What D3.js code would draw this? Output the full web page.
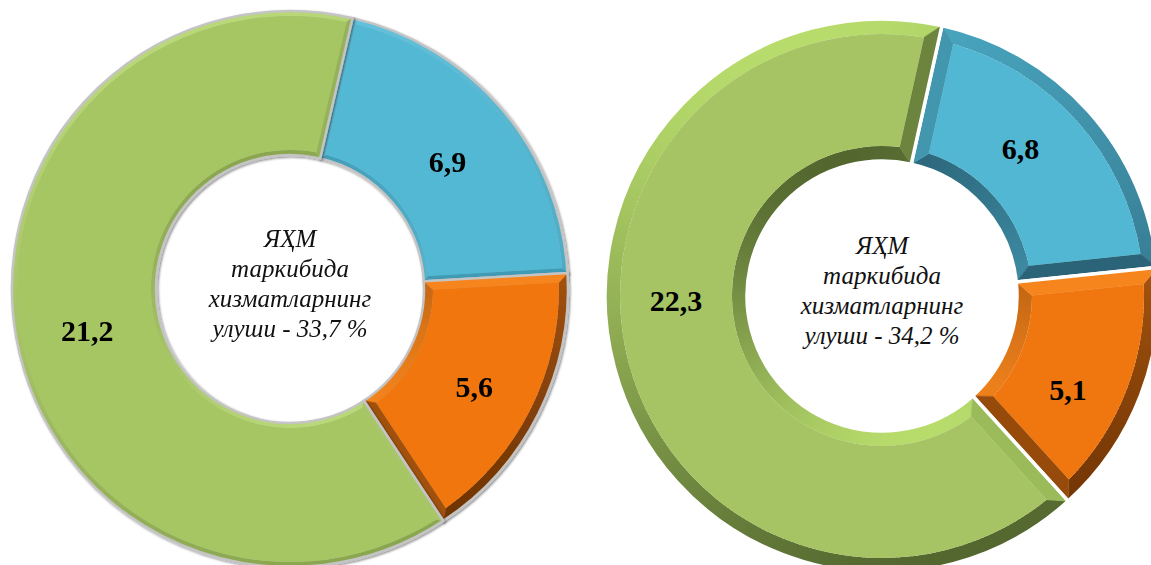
<!DOCTYPE html>
<meta charset="utf-8">
<body style="margin:0;background:#fff">
<script src="https://d3js.org/d3.v7.min.js"></script>
<script>
    // slice order follows the chart clockwise from the first slice
    var sectors = ["blue", "orange", "green"];
    var leftValues = [6.9, 5.6, 21.2];
    var rightValues = [6.8, 5.1, 22.3];
    var captionLines = ["ЯҲМ", "таркибида", "хизматларнинг", "улуши - "];

    var width = 1151, height = 565;
    var rad = Math.PI / 180;
    var serif = "Tinos, 'Times New Roman', FreeSerif, serif";

    // light comes from the top left
    var light = (function () {
        var x = -0.3, y = -0.95, l = Math.hypot(x, y);
        return [x / l, y / l];
    })();

    var palettes = {
        soft: {
            blue:   { face: "#52b8d3", dark: "#3f9bb5", light: "#66c4de", w: 5 },
            orange: { face: "#f0760f", dark: "#6e3304", light: "#f7861d", w: 9 },
            green:  { face: "#a6c564", dark: "#8aa64f", light: "#b9d877", w: 5 }
        },
        bevel: {
            blue:   { face: "#52b7d2", dark: "#2b6377", light: "#4aa8c2", w: 15 },
            orange: { face: "#f0760f", dark: "#6e3304", light: "#f7861d", w: 15 },
            green:  { face: "#a6c464", dark: "#53672f", light: "#b8dc6c", w: 15 }
        }
    };

    var charts = [
        { values: leftValues, cx: 290, cy: 289, R: 278, r: 134, start: 13, style: "soft",
          outline: "#c4c4c4", outlineW: 2.5, nudge: [0, 0, 0], shadow: true },
        { values: rightValues, cx: 882, cy: 296, R: 277, r: 135, start: 12.5, style: "bevel",
          outline: "#ffffff", outlineW: 3.5, nudge: [-6, 4.5, 15], shadow: false }
    ];

    var fmt = function (v) { return d3.format(".1f")(v).replace(".", ","); };

    var svg = d3.select("body").append("svg")
        .attr("width", width)
        .attr("height", height)
        .style("display", "block");
    var defs = svg.append("defs");

    defs.append("filter").attr("id", "soft-shadow")
        .attr("x", "-10%").attr("y", "-10%").attr("width", "120%").attr("height", "120%")
        .append("feDropShadow")
        .attr("dx", 1.2).attr("dy", 1.2)
        .attr("stdDeviation", 1.2)
        .attr("flood-color", "#000")
        .attr("flood-opacity", 0.45);

    function pt(r, a) { return [r * Math.sin(a), -r * Math.cos(a)]; }

    function shade(p, n) {
        var t = (n[0] * light[0] + n[1] * light[1] + 1) / 2;
        return d3.interpolateRgb(p.dark, p.light)(t);
    }

    var clipId = 0;

    // a slice drawn as a raised face with four sloped edges
    function drawSlice(g, a0, a1, r0, r1, p) {
        var w = p.w;
        var ro = r1 - w, ri = r0 + w;
        var o0 = a0 + Math.asin(w / ro), o1 = a1 - Math.asin(w / ro);
        var i0 = a0 + Math.asin(w / ri), i1 = a1 - Math.asin(w / ri);
        var h = Math.PI / 2;

        var outer = d3.path();
        outer.moveTo.apply(outer, pt(r1, a0));
        outer.arc(0, 0, r1, a0 - h, a1 - h, false);
        outer.lineTo.apply(outer, pt(ro, o1));
        outer.arc(0, 0, ro, o1 - h, o0 - h, true);
        outer.closePath();

        var inner = d3.path();
        inner.moveTo.apply(inner, pt(r0, a1));
        inner.arc(0, 0, r0, a1 - h, a0 - h, true);
        inner.lineTo.apply(inner, pt(ri, i0));
        inner.arc(0, 0, ri, i0 - h, i1 - h, false);
        inner.closePath();

        var face = d3.path();
        face.moveTo.apply(face, pt(ro, o0));
        face.arc(0, 0, ro, o0 - h, o1 - h, false);
        face.lineTo.apply(face, pt(ri, i1));
        face.arc(0, 0, ri, i1 - h, i0 - h, true);
        face.closePath();

        // curved edges: shaded in thin wedges, clipped to the edge shape
        [[outer, 1], [inner, -1]].forEach(function (band) {
            var id = "band" + (clipId++);
            defs.append("clipPath").attr("id", id)
                .append("path").attr("d", band[0].toString());
            var bg = g.append("g").attr("clip-path", "url(#" + id + ")");
            var step = 1 * rad;
            var wedges = d3.range(a0, a1, step);
            bg.selectAll("path").data(wedges).enter().append("path")
                .attr("d", function (t) {
                    return d3.arc()({ innerRadius: r0 - 2, outerRadius: r1 + 2,
                        startAngle: t - 0.004, endAngle: Math.min(t + step, a1) + 0.004 });
                })
                .attr("fill", function (t) {
                    var m = t + step / 2;
                    return shade(p, [band[1] * Math.sin(m), -band[1] * Math.cos(m)]);
                });
        });

        // straight edges
        var sides = [
            { pts: [pt(r0, a0), pt(r1, a0), pt(ro, o0), pt(ri, i0)], n: pt(1, a0 - h) },
            { pts: [pt(r1, a1), pt(r0, a1), pt(ri, i1), pt(ro, o1)], n: pt(1, a1 + h) }
        ];
        g.selectAll("polygon.side").data(sides).enter().append("polygon")
            .attr("class", "side")
            .attr("points", function (s) { return s.pts.map(function (q) { return q.join(","); }).join(" "); })
            .attr("fill", function (s) { return shade(p, s.n); })
            .attr("stroke", function (s) { return shade(p, s.n); })
            .attr("stroke-width", 0.6);

        g.append("path").attr("d", face.toString()).attr("fill", p.face);
    }

    charts.forEach(function (c) {
        var pie = d3.pie().sort(null)
            .startAngle(c.start * rad)
            .endAngle(c.start * rad + 2 * Math.PI);
        var arcs = pie(c.values);
        var pal = palettes[c.style];
        var arc = d3.arc().innerRadius(c.r).outerRadius(c.R);

        var g = svg.append("g").attr("transform", "translate(" + c.cx + "," + c.cy + ")");

        arcs.forEach(function (d, i) {
            var sg = g.append("g");
            if (c.shadow) sg.attr("filter", "url(#soft-shadow)");
            drawSlice(sg, d.startAngle, d.endAngle, c.r, c.R, pal[sectors[i]]);
            // outline / gap around the slice
            sg.append("path")
                .attr("d", arc(d))
                .attr("fill", "none")
                .attr("stroke", c.outline)
                .attr("stroke-width", c.outlineW);
        });

        // value labels
        var mid = (c.R + c.r) / 2;
        g.append("g").selectAll("text").data(arcs).enter().append("text")
            .attr("font-family", serif)
            .attr("font-weight", "bold")
            .attr("font-size", 30)
            .attr("fill", "#000")
            .attr("text-anchor", "middle")
            .attr("dy", "0.35em")
            .attr("transform", function (d, i) {
                var a = (d.startAngle + d.endAngle) / 2 + c.nudge[i] * rad;
                var q = pt(mid, a);
                return "translate(" + q[0] + "," + (q[1] + 5) + ")";
            })
            .text(function (d) { return fmt(d.data); });

        // centre caption: share of services
        var total = d3.sum(c.values);
        var lines = captionLines.slice();
        lines[3] = lines[3] + fmt(total) + " %";
        g.append("g").selectAll("text").data(lines).enter().append("text")
            .attr("font-family", serif)
            .attr("font-style", "italic")
            .attr("font-size", 25)
            .attr("fill", "#111")
            .attr("text-anchor", "middle")
            .attr("y", function (d, i) { return -42 + i * 30; })
            .text(function (d) { return d; });
    });
</script>
</body>
